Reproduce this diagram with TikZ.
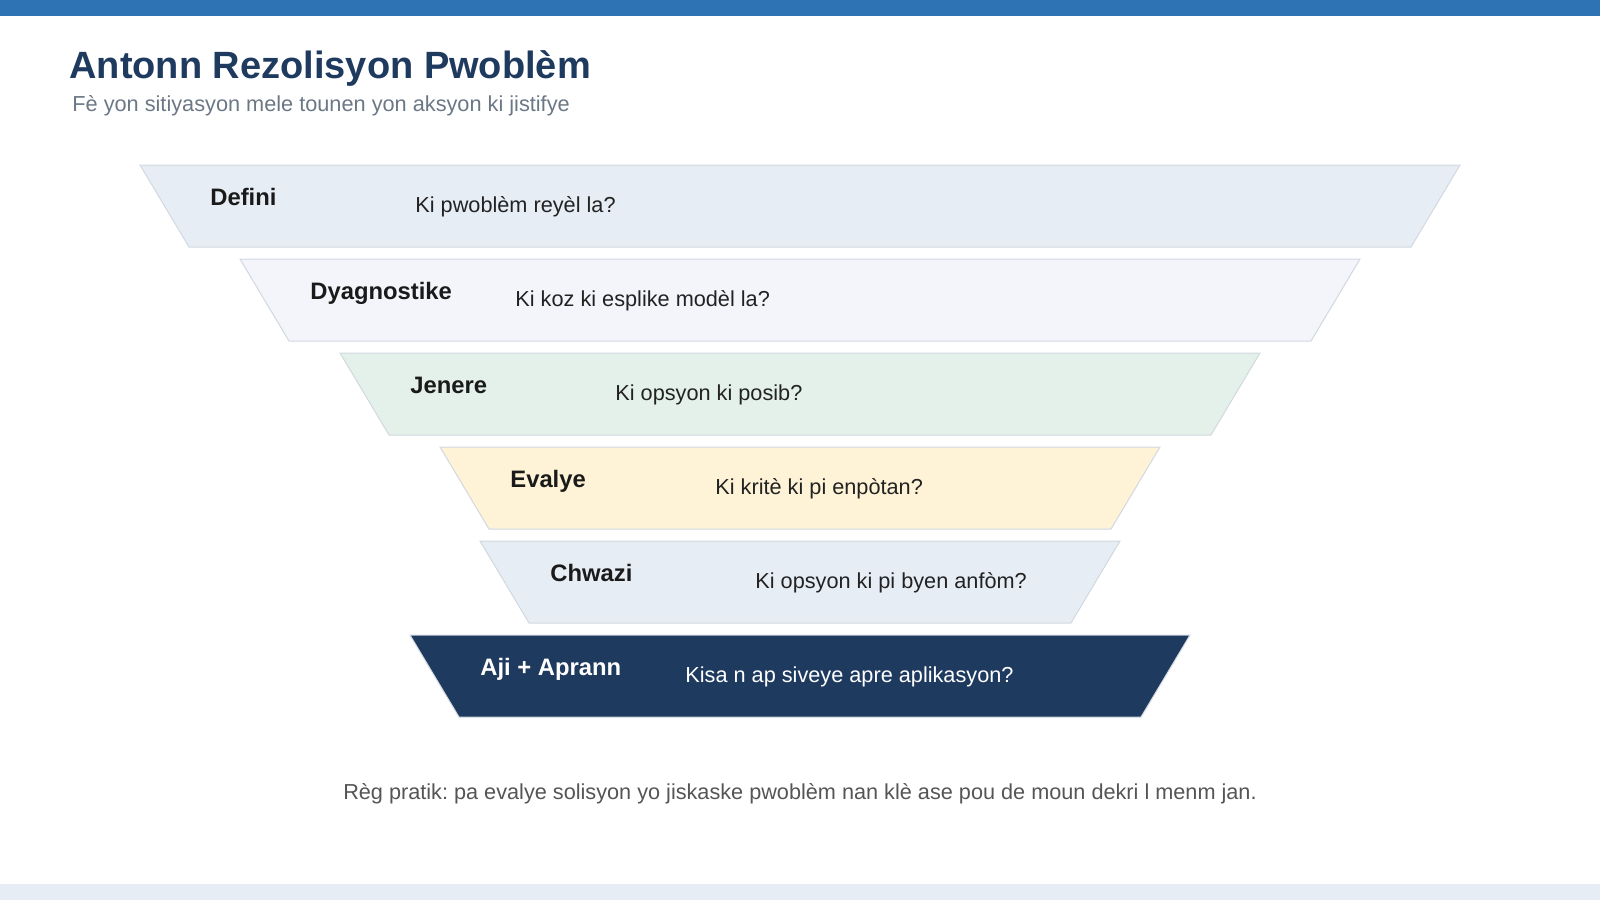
\documentclass[tikz,border=0pt]{standalone}
\usepackage{fontspec}
\setmainfont{Liberation Sans}
\usetikzlibrary{calc}
\frenchspacing

\definecolor{topbar}{HTML}{2E74B5}
\definecolor{navy}{HTML}{1F3A5F}
\definecolor{subgray}{HTML}{6B7785}
\definecolor{edge}{HTML}{D2D8E0}
\definecolor{bandA}{HTML}{E7EDF5}
\definecolor{bandB}{HTML}{F3F5FA}
\definecolor{bandC}{HTML}{E4F1EB}
\definecolor{bandD}{HTML}{FEF3D7}
\definecolor{ink}{HTML}{1A1A1A}
\definecolor{qink}{HTML}{222222}
\definecolor{foot}{HTML}{555555}

\tikzset{
  lab/.style={anchor=base west,inner sep=0pt,font=\fontsize{11.9pt}{14pt}\selectfont\bfseries},
  ques/.style={anchor=base west,inner sep=0pt,font=\fontsize{10.85pt}{13pt}\selectfont}
}

\begin{document}
\begin{tikzpicture}[x=0.5pt,y=-0.5pt]
 \useasboundingbox (0,0) rectangle (1600,900);
 \fill[topbar] (0,0) rectangle (1600,16); %bar
 \fill[bandA] (0,884) rectangle (1600,900); %foot bar

 \node[anchor=base west,inner sep=0pt,text=navy,font=\fontsize{19pt}{22pt}\selectfont\bfseries]
   (title) at (69,78) {Antonn Rezolisyon Pwoblèm}; %title
 \node[anchor=base west,inner sep=0pt,text=subgray,font=\fontsize{10.86pt}{13pt}\selectfont]
   (sub) at (72,111) {Fè yon sitiyasyon mele tounen yon aksyon ki jistifye}; %subtitle

 \foreach [evaluate=\i as \yt using 165+94*(\i-1)]
   \i/\hw/\fc/\tc/\qc/\lab/\qu in {
   1/660/bandA/ink/qink/Defini/Ki pwoblèm reyèl la?,
   2/560/bandB/ink/qink/Dyagnostike/Ki koz ki esplike modèl la?,
   3/460/bandC/ink/qink/Jenere/Ki opsyon ki posib?,
   4/360/bandD/ink/qink/Evalye/Ki kritè ki pi enpòtan?,
   5/320/bandA/ink/qink/Chwazi/Ki opsyon ki pi byen anfòm?,
   6/390/navy/white/white/Aji + Aprann/Kisa n ap siveye apre aplikasyon?}
 {
   \draw[fill=\fc,draw=edge,line width=0.5pt]
     (800-\hw,\yt)--(800+\hw,\yt)--(800+\hw-49,\yt+82)--(800-\hw+49,\yt+82)--cycle; %band
   \node[lab,text=\tc] (lab\i) at (800-\hw+70,\yt+40) {\lab};
   \node[ques,text=\qc] (q\i) at (800-\hw+275,\yt+47) {\qu};
 }

 \node[anchor=base,inner sep=0pt,text=foot,font=\fontsize{10.84pt}{13pt}\selectfont]
   (rule) at (800,799) {Règ pratik: pa evalye solisyon yo jiskaske pwoblèm nan klè ase pou de moun dekri l menm jan.}; %footer
\end{tikzpicture}
\end{document}
